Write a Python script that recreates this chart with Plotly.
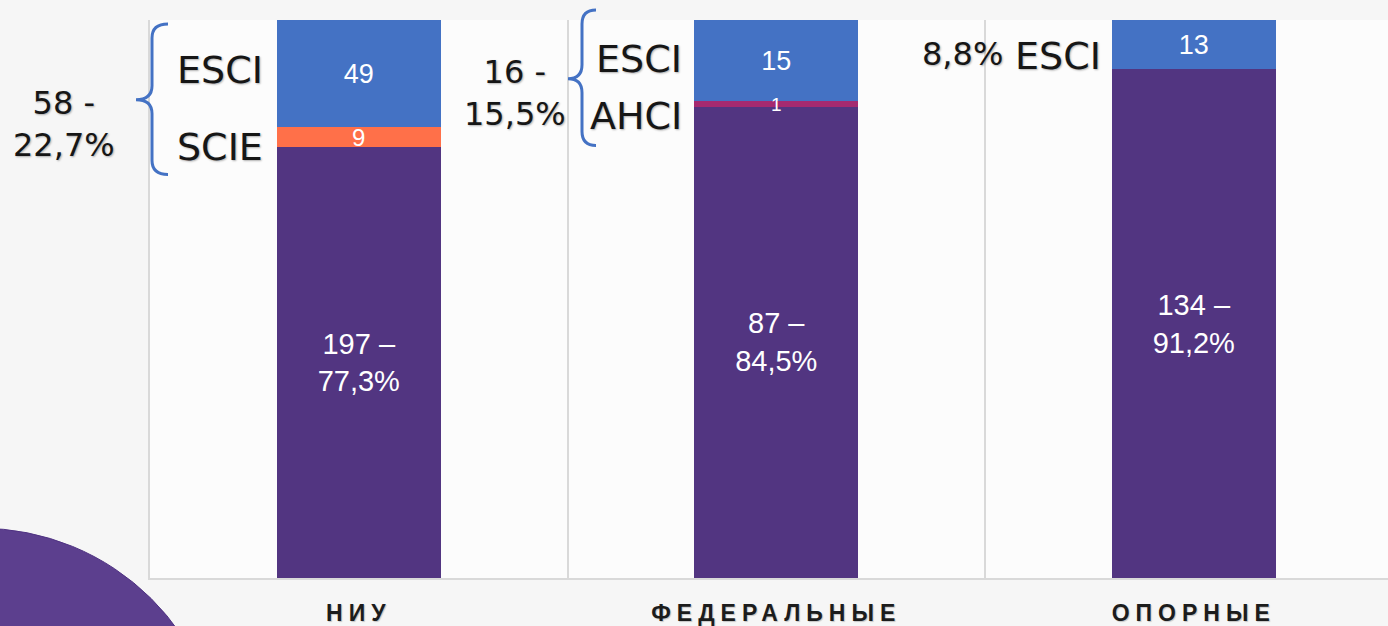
import plotly.graph_objects as go

# ---------------- data ----------------
categories = ["НИУ", "ФЕДЕРАЛЬНЫЕ", "ОПОРНЫЕ"]
main_values = [197, 87, 134]
main_pct = ["77,3%", "84,5%", "91,2%"]
scie_values = [9, 0, 0]
ahci_values = [0, 1, 0]
esci_values = [49, 15, 13]
group_labels = ["58 -<br>22,7%", "16 -<br>15,5%", "8,8%"]

# ---------------- geometry helpers (layout only) ----------------
W, H = 1388, 626
L, R, T, B = 150, 0, 20, 46
PW, PH = W - L - R, H - T - B
CAT_PX = 417.5


def px_x(px):
    return (px - L) / PW


def px_y(py):
    return (H - B - py) / PH


x_pos = list(range(len(categories)))
totals = [m + s + a + e for m, s, a, e in zip(main_values, scie_values, ahci_values, esci_values)]

PURPLE = "#523581"
BLUE = "#4472C4"
ORANGE = "#FF7049"
MAGENTA = "#A52A70"
GRID = "#d9d9d9"

bar_font = "Liberation Sans, Arial, sans-serif"
lab_font = "DejaVu Sans, Verdana, sans-serif"


def seg_text(vals):
    return [str(v) if v else "" for v in vals]


common = dict(textposition="inside", insidetextanchor="middle",
              constraintext="none", textangle=0)

fig = go.Figure()
fig.add_trace(go.Bar(
    x=x_pos, y=main_values, marker=dict(color=PURPLE, line=dict(width=0)),
    text=[f"{v} –<br>{p}" for v, p in zip(main_values, main_pct)],
    textfont=dict(family=bar_font, size=29, color="white"), name="main", **common,
))
fig.add_trace(go.Bar(
    x=x_pos, y=scie_values, marker=dict(color=ORANGE, line=dict(width=0)),
    text=seg_text(scie_values),
    textfont=dict(family=bar_font, size=24, color="white"), name="SCIE", **common,
))
fig.add_trace(go.Bar(
    x=x_pos, y=ahci_values, marker=dict(color=MAGENTA, line=dict(width=0)),
    name="AHCI", hoverinfo="y",
))
fig.add_trace(go.Bar(
    x=x_pos, y=esci_values, marker=dict(color=BLUE, line=dict(width=0)),
    text=seg_text(esci_values),
    textfont=dict(family=bar_font, size=27, color="white"), name="ESCI", **common,
))

# label of the very thin AHCI segment, drawn above the bars (position from the data)
for i, a in enumerate(ahci_values):
    if a:
        y_mid = (main_values[i] + scie_values[i] + a / 2) / totals[i]
        fig.add_annotation(x=x_pos[i], y=y_mid, xref="x", yref="y", text=str(a),
                           showarrow=False, yanchor="middle", yshift=-1,
                           font=dict(family=bar_font, size=19, color="white"))

tick_text = [f'<span style="letter-spacing:6px">{c}</span>' for c in categories]

fig.update_layout(
    width=W, height=H,
    margin=dict(l=L, r=R, t=T, b=B, pad=0),
    barmode="stack", barnorm="fraction", bargap=1 - 164 / CAT_PX,
    showlegend=False,
    paper_bgcolor="#f6f6f6", plot_bgcolor="#fcfcfc",
    xaxis=dict(
        range=[-0.5, -0.5 + PW / CAT_PX],
        tickmode="array", tickvals=x_pos, ticktext=tick_text,
        tickfont=dict(family="Liberation Sans, Arial, sans-serif",
                      size=23, color="#1c1c1c", weight="bold",
                      shadow="1px 1px 1px rgba(0,0,0,0.2)"),
        ticks="outside", ticklen=13, tickcolor="rgba(0,0,0,0)",
        showgrid=False, zeroline=False,
        showline=True, linecolor=GRID, linewidth=2,
        minor=dict(tickmode="array", tickvals=[0.5, 1.5], showgrid=True,
                   gridcolor=GRID, gridwidth=1.5, ticks=""),
        fixedrange=True,
    ),
    yaxis=dict(
        range=[0, 1], showgrid=False, zeroline=False, showticklabels=False,
        showline=True, linecolor=GRID, linewidth=1.5, fixedrange=True,
    ),
)

# decorative purple disc in the bottom-left corner
fig.add_shape(type="circle", xref="paper", yref="paper", layer="below",
              x0=px_x(-262), x1=px_x(222), y0=px_y(1012), y1=px_y(530),
              fillcolor="#5c3f8e", line=dict(color="#4f3282", width=1))


def brace(x_end, x_mid, x_tip, y_top, y_tip, y_bot):
    r = 14
    pts = [
        f"M {px_x(x_end)},{px_y(y_top)}",
        f"Q {px_x(x_mid)},{px_y(y_top)} {px_x(x_mid)},{px_y(y_top + r)}",
        f"L {px_x(x_mid)},{px_y(y_tip - r)}",
        f"Q {px_x(x_mid)},{px_y(y_tip)} {px_x(x_tip)},{px_y(y_tip)}",
        f"Q {px_x(x_mid)},{px_y(y_tip)} {px_x(x_mid)},{px_y(y_tip + r)}",
        f"L {px_x(x_mid)},{px_y(y_bot - r)}",
        f"Q {px_x(x_mid)},{px_y(y_bot)} {px_x(x_end)},{px_y(y_bot)}",
    ]
    return " ".join(pts)


fig.add_shape(type="path", xref="paper", yref="paper",
              path=brace(168, 152, 136, 24, 100, 175),
              line=dict(color=BLUE, width=3))
fig.add_shape(type="path", xref="paper", yref="paper",
              path=brace(596, 582, 568, 10, 79, 146),
              line=dict(color=BLUE, width=3))

shadow = "1px 1px 2px rgba(0,0,0,0.3)"
dark = "#161616"


def note(text, x, y, xanchor="center", size=32):
    fig.add_annotation(text=text, xref="paper", yref="paper", x=px_x(x), y=px_y(y),
                       xanchor=xanchor, yanchor="middle", showarrow=False,
                       font=dict(family=lab_font, size=size, color=dark, shadow=shadow),
                       align="center")


note(group_labels[0], 64, 124)
note("ESCI", 175, 70, "left", 38)
note("SCIE", 175, 147, "left", 38)
note(group_labels[1], 515, 93)
note("ESCI", 594, 59, "left", 38)
note("AHCI", 588, 116, "left", 38)
note(group_labels[2], 962, 54)
note("ESCI", 1013, 56, "left", 38)

fig.write_html("out.html", config={"displayModeBar": False},
               post_script="document.body.style.margin='0';document.body.style.overflow='hidden';")
